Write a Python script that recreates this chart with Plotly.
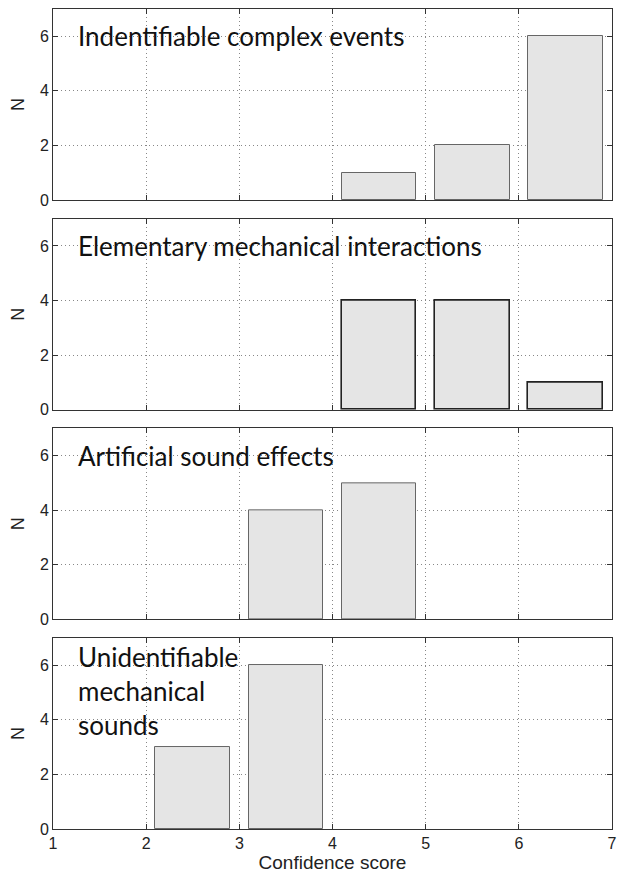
import plotly.graph_objects as go
from plotly.subplots import make_subplots

scores = [2.5, 3.5, 4.5, 5.5, 6.5]
panel_titles = ["Indentifiable complex events",
                "Elementary mechanical interactions",
                "Artificial sound effects",
                "Unidentifiable<br>mechanical<br>sounds"]
complex_events = [0, 0, 1, 2, 6]
mechanical_interactions = [0, 0, 4, 4, 1]
sound_effects = [0, 4, 5, 0, 0]
unidentifiable = [3, 6, 0, 0, 0]
series = [complex_events, mechanical_interactions, sound_effects, unidentifiable]
x_ticks = [1, 2, 3, 4, 5, 6, 7]
y_ticks = [0, 2, 4, 6]

edge_colors = ["#666666", "#222222", "#666666", "#666666"]
edge_widths = [1, 1.6, 1, 1]

fig = make_subplots(rows=4, cols=1, shared_xaxes=False, vertical_spacing=0.0228)

for i, vals in enumerate(series):
    r = i + 1
    xs = [s for s, v in zip(scores, vals) if v > 0]
    ys = [v for v in vals if v > 0]
    fig.add_trace(go.Bar(x=xs, y=ys, width=0.8,
                         marker=dict(color="#e5e5e5",
                                     line=dict(color=edge_colors[i], width=edge_widths[i])),
                         showlegend=False, hoverinfo="skip"), row=r, col=1)
    fig.update_xaxes(range=[1, 7], tickvals=x_ticks, showticklabels=(r == 4),
                     ticks="inside", ticklen=5, tickcolor="#333", mirror="ticks",
                     showline=True, linecolor="#333", linewidth=1,
                     showgrid=True, gridcolor="#888", griddash="1px,3px", gridwidth=1,
                     zeroline=False, automargin=False, ticklabeloverflow="allow",
                     tickfont=dict(family="Liberation Sans", size=16, color="#222"),
                     row=r, col=1)
    fig.update_yaxes(range=[0, 7], tickvals=y_ticks,
                     ticks="inside", ticklen=5, tickcolor="#333", mirror="ticks",
                     showline=True, linecolor="#333", linewidth=1,
                     showgrid=True, gridcolor="#888", griddash="1px,3px", gridwidth=1,
                     zeroline=False, automargin=False,
                     tickfont=dict(family="Liberation Sans", size=16, color="#222"),
                     title=dict(text="N", standoff=10,
                                font=dict(family="Liberation Sans", size=18, color="#222")),
                     row=r, col=1)
    ypos = 6 if r < 4 else 6.95
    fig.add_annotation(x=1.25, y=ypos, xref=f"x{r if r > 1 else ''}", yref=f"y{r if r > 1 else ''}",
                       text=panel_titles[i], showarrow=False, xanchor="left",
                       yanchor="middle" if r < 4 else "top", align="left",
                       font=dict(family="Lato", size=26, color="#111"))

fig.update_xaxes(title=dict(text="Confidence score", standoff=2,
                            font=dict(family="Liberation Sans", size=19, color="#222")),
                 row=4, col=1)

fig.update_layout(width=619, height=875, plot_bgcolor="white", paper_bgcolor="white",
                  margin=dict(l=53, r=7, t=9, b=46), bargap=0)

fig.write_html("out.html", config={"displayModeBar": False},
               post_script="document.body.style.margin='0';document.body.style.overflow='hidden';")
